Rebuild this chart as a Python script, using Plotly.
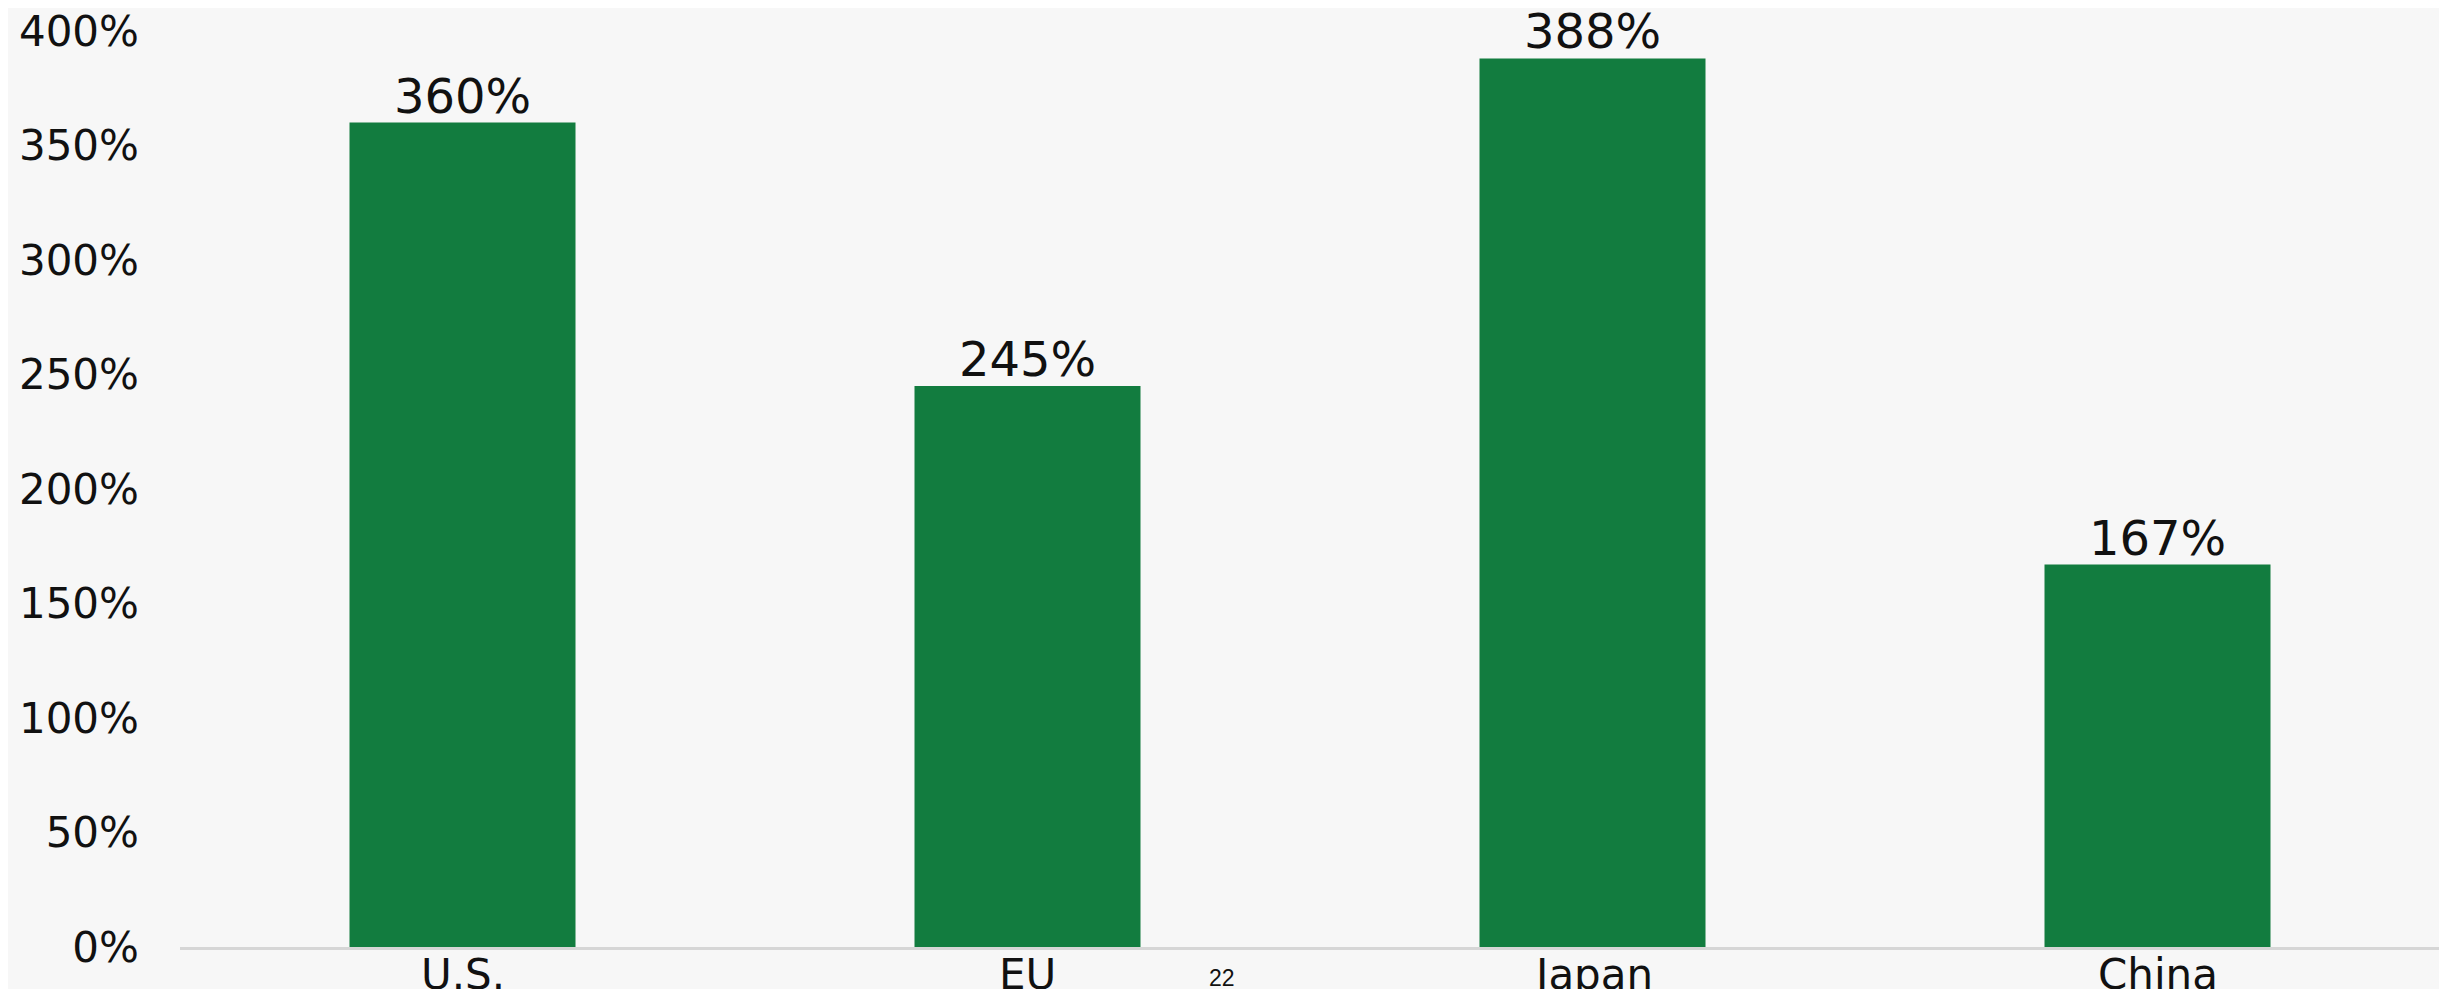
import plotly.graph_objects as go

categories = ["U.S.", "EU", "Japan", "China"]
values = [360, 245, 388, 167]
value_labels = ["360%", "245%", "388%", "167%"]
tick_vals = [0, 50, 100, 150, 200, 250, 300, 350, 400]
tick_text = ["0%", "50%", "100%", "150%", "200%", "250%", "300%", "350%", "400%"]
page_number = "22"

FONT = "DejaVu Sans, Liberation Sans, Arial, sans-serif"
FONT2 = "Liberation Sans, Arial, sans-serif"
BAR = "#127c3f"
BG = "#f7f7f7"

# page body offsets the figure by 8px; margins account for that
L, R, T, B = 172, 15, 23, 50
PW = 2447 - L - R
PH = 989 - T - B

fig = go.Figure()
fig.add_trace(go.Bar(x=categories, y=values, marker=dict(color=BAR, line=dict(width=0)),
                     width=0.4, hoverinfo="skip"))

for c, v, t in zip(categories, values, value_labels):
    fig.add_annotation(x=c, y=v, text=t, showarrow=False, yanchor="bottom", yshift=-3,
                       font=dict(family=FONT, size=48, color="#111111"))

for c in categories:
    fig.add_annotation(x=c, xref="x", yref="paper", y=0, text=c, showarrow=False,
                       yanchor="middle", yshift=-27,
                       font=dict(family=FONT, size=42, color="#111111"))

fig.add_annotation(xref="paper", yref="paper", x=(1222 - 8 - L) / PW, y=-31 / PH,
                   text=page_number, showarrow=False, xanchor="center", yanchor="middle",
                   font=dict(family=FONT2, size=23, color="#111111"))

fig.update_layout(
    width=2447, height=989,
    margin=dict(l=L, r=R, t=T, b=B, autoexpand=False),
    paper_bgcolor=BG, plot_bgcolor=BG,
    showlegend=False,
    bargap=0.6,
)
fig.update_xaxes(showgrid=False, showline=True, linecolor="#d6d6d6", linewidth=3,
                 ticks="", showticklabels=False, zeroline=False, automargin=False)
fig.update_yaxes(range=[0, 400], tickvals=tick_vals, ticktext=tick_text, showgrid=False,
                 zeroline=False, showline=False, ticks="",
                 tickfont=dict(family=FONT, size=42, color="#111111"),
                 ticklabelstandoff=40, ticklabeloverflow="allow", automargin=False)

fig.write_html("out.html")
